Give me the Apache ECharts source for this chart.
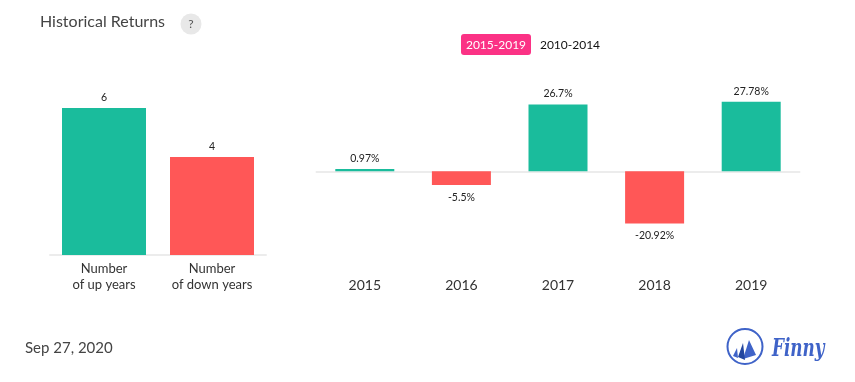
<!DOCTYPE html>
<html><head><meta charset="utf-8">
<style>html,body{margin:0;padding:0;background:#fff}#c{width:855px;height:382px}</style>
<script src="https://cdn.jsdelivr.net/npm/echarts@6/dist/echarts.min.js"></script>
</head><body><div id="c"></div>
<script>
const countCategories = ['Number\nof up years', 'Number\nof down years'];
const countValues = [6, 4];
const years = ['2015', '2016', '2017', '2018', '2019'];
const returns = [0.97, -5.5, 26.7, -20.92, 27.78];
const titleText = 'Historical Returns';
const dateText = 'Sep 27, 2020';
const rangeLabels = ['2015-2019', '2010-2014'];

const UP = '#1abc9c', DOWN = '#ff5757', FONT = 'Lato';
const chart = echarts.init(document.getElementById('c'), null, {renderer: 'canvas'});
const axisLine = {show: true, onZero: true, lineStyle: {color: '#ececec', width: 2}};
chart.setOption({
  animation: false,
  textStyle: {fontFamily: FONT},
  grid: [
    {left: 50, width: 216, top: 59, height: 196},
    {left: 316.5, width: 483, top: 96.3, height: 150}
  ],
  xAxis: [
    {type: 'category', gridIndex: 0, data: countCategories, axisLine, axisTick: {show: false},
     axisLabel: {color: '#333', fontSize: 13, lineHeight: 16, margin: 6, fontFamily: FONT, interval: 0}},
    {type: 'category', gridIndex: 1, data: years, axisLine, axisTick: {show: false},
     axisLabel: {show: true, color: '#333', fontSize: 14, margin: 0, fontFamily: FONT, interval: 0,
       formatter: v => v, padding: [32, 0, 0, 0]}}
  ],
  yAxis: [
    {type: 'value', gridIndex: 0, min: 0, max: 8, show: false},
    {type: 'value', gridIndex: 1, min: -30, max: 30, show: false}
  ],
  series: [
    {type: 'bar', xAxisIndex: 0, yAxisIndex: 0, barWidth: 84,
     data: countValues.map((v, i) => ({value: v, itemStyle: {color: i === 0 ? UP : DOWN}})),
     label: {show: true, position: 'top', distance: 5, color: '#222', fontSize: 10.5, fontFamily: FONT}},
    {type: 'bar', xAxisIndex: 1, yAxisIndex: 1, barWidth: 59,
     data: returns.map(v => ({value: v, itemStyle: {color: v >= 0 ? UP : DOWN},
       label: {position: v >= 0 ? 'top' : 'bottom', distance: v >= 0 ? 5 : 7}})),
     label: {show: true, color: '#222', fontSize: 10.5, fontFamily: FONT,
       formatter: p => p.value + '%'}}
  ],
  graphic: [
    {type: 'text', left: 40, top: 14, style: {text: titleText, fill: '#444', font: '16px Lato'}},
    {type: 'circle', shape: {cx: 191, cy: 24, r: 10.5}, style: {fill: '#e8e8e8'}},
    {type: 'text', x: 191, y: 24, style: {text: '?', fill: '#555', font: '12px Lato', align: 'center', verticalAlign: 'middle'}},
    {type: 'rect', shape: {x: 461, y: 34, width: 70, height: 21, r: 3}, style: {fill: '#fb3285'}},
    {type: 'text', x: 496, y: 45, style: {text: rangeLabels[0], fill: '#fff', font: '12px Lato', align: 'center', verticalAlign: 'middle'}},
    {type: 'text', x: 570, y: 45, style: {text: rangeLabels[1], fill: '#111', font: '12px Lato', align: 'center', verticalAlign: 'middle'}},
    {type: 'text', left: 25, top: 341, style: {text: dateText, fill: '#444', font: '15px Lato'}},
    {type: 'circle', shape: {cx: 745, cy: 346.5, r: 17.5}, style: {fill: 'none', stroke: '#3f63c8', lineWidth: 2}},
    {type: 'polygon', shape: {points: [[749, 340], [756, 355], [743, 359]]}, style: {fill: '#3f63c8'}},
    {type: 'polygon', shape: {points: [[743, 343], [745, 360], [738, 357]]}, style: {fill: '#23469f'}},
    {type: 'polygon', shape: {points: [[737, 348], [738, 358], [733, 356]]}, style: {fill: '#3f63c8'}},
    {type: 'text', x: 772, y: 350, scaleX: 0.7, style: {text: 'Finny', fill: '#3f63c8', font: 'italic bold 24px "DejaVu Serif"', verticalAlign: 'middle'}}
  ]
});
</script></body></html>
